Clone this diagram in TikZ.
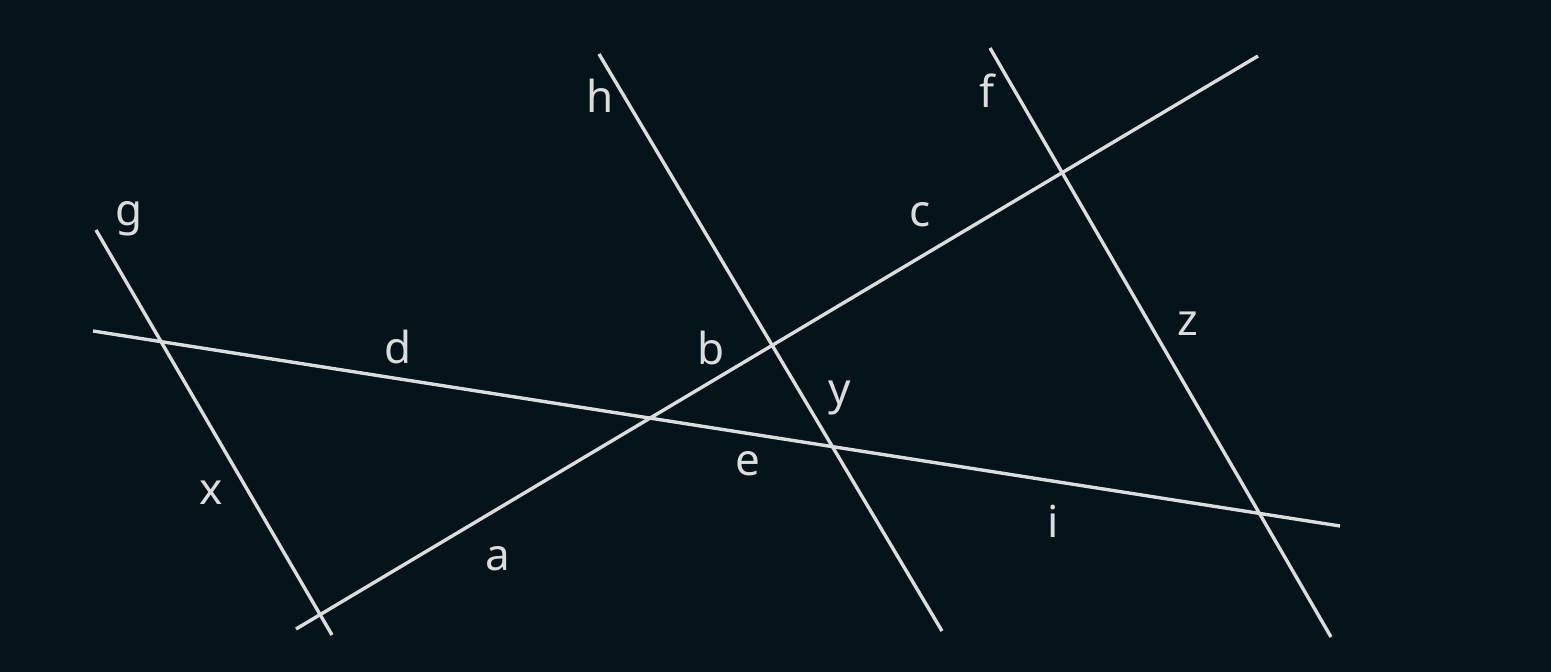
\documentclass[tikz,border=0pt]{standalone}
\usepackage{fontspec}
\setmainfont{Noto Sans}
\definecolor{bg}{RGB}{3,19,25}
\definecolor{ln}{RGB}{218,220,221}
\begin{document}
\begin{tikzpicture}[x=1pt,y=-1pt,
  seg/.style={draw=ln,line width=3.4pt},
  lbl/.style={text=ln,font=\fontsize{44}{44}\selectfont,anchor=base,inner sep=0pt}]
\fill[bg] (0,0) rectangle (1551,672);
\useasboundingbox (0,0) rectangle (1551,672);
% line endpoints
\coordinate (g1) at (96,230);   \coordinate (g2) at (332,635);
\coordinate (d1) at (93,331);   \coordinate (d2) at (1340,526);
\coordinate (a1) at (296,629);  \coordinate (a2) at (1258,56);
\coordinate (h1) at (599,54);   \coordinate (h2) at (942,631);
\coordinate (f1) at (990,48);   \coordinate (f2) at (1331,637);
\draw[seg] (g1) -- (g2);
\draw[seg] (d1) -- (d2);
\draw[seg] (a1) -- (a2);
\draw[seg] (h1) -- (h2);
\draw[seg] (f1) -- (f2);
% labels
\node[lbl] (lg) at (129,225) {g};
\node[lbl] (lh) at (600,112) {h};
\node[lbl] (lf) at (987,107) {f};
\node[lbl] (lc) at (920,226) {c};
\node[lbl] (ld) at (398,363) {d};
\node[lbl] (lb) at (711,364) {b};
\node[lbl] (ly) at (840,404) {y};
\node[lbl] (lz) at (1188,335) {z};
\node[lbl] (lx) at (211,504) {x};
\node[lbl] (le) at (748,475) {e};
\node[lbl] (li) at (1053,537) {i};
\node[lbl] (la) at (498,570) {a};
\end{tikzpicture}
\end{document}
